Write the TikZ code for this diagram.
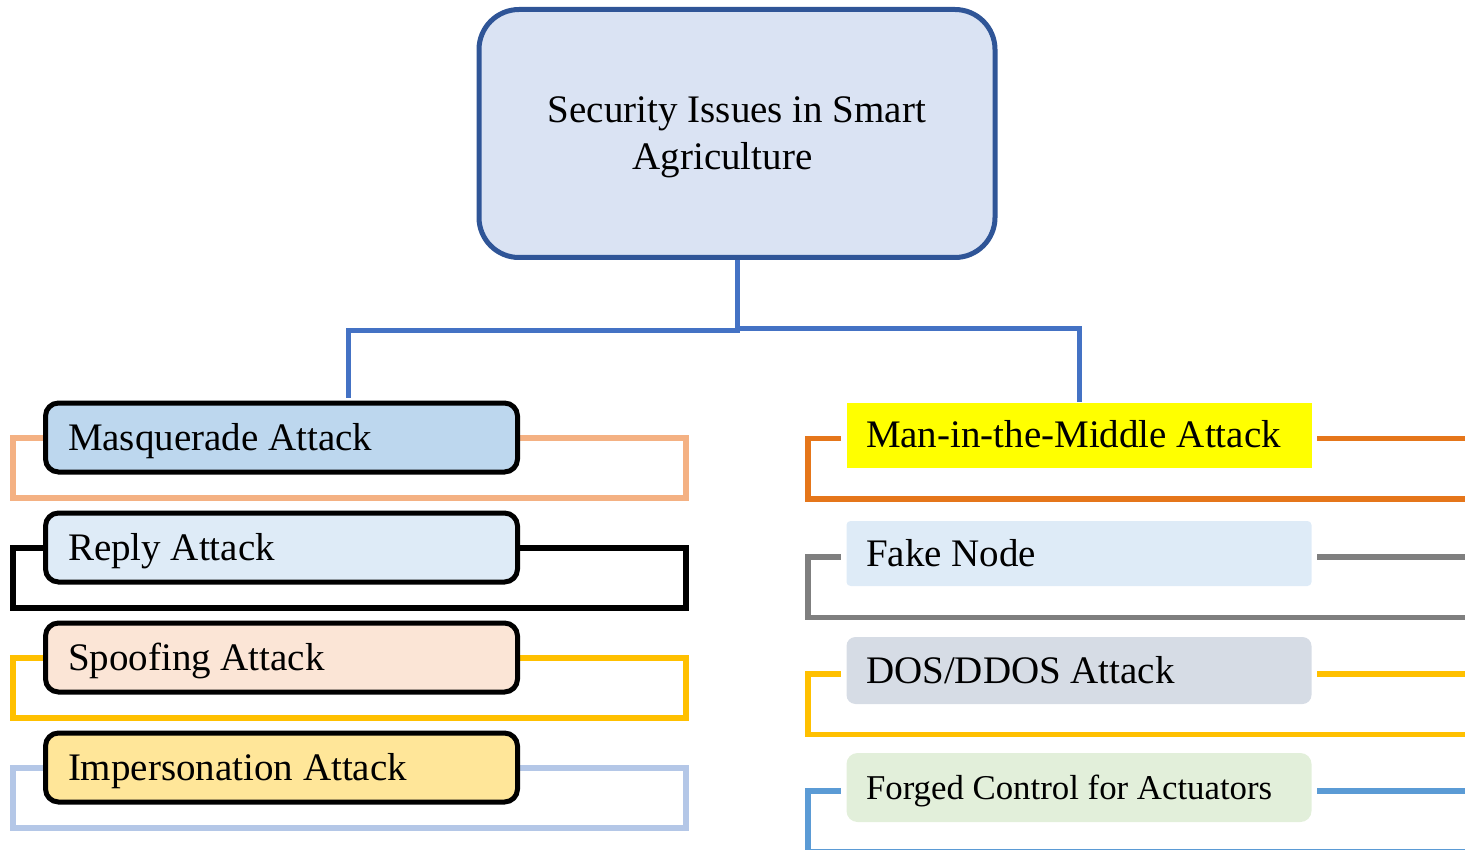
\documentclass[tikz,border=0pt]{standalone}
\usepackage{fontspec}
\setmainfont{Liberation Serif}
\usetikzlibrary{calc,backgrounds}

\definecolor{rootfill}{HTML}{DAE3F3}
\definecolor{rootline}{HTML}{2F5597}
\definecolor{linkblue}{HTML}{4472C4}
\definecolor{masfill}{HTML}{BDD7EE}
\definecolor{repfill}{HTML}{DEEBF7}
\definecolor{spofill}{HTML}{FBE5D6}
\definecolor{impfill}{HTML}{FFE699}
\definecolor{mitmfill}{HTML}{FFFF00}
\definecolor{fakefill}{HTML}{DEEBF7}
\definecolor{dosfill}{HTML}{D6DCE5}
\definecolor{forgfill}{HTML}{E2EFDA}
\definecolor{brpeach}{HTML}{F4B183}
\definecolor{bramber}{HTML}{FFC000}
\definecolor{brsky}{HTML}{B4C7E7}
\definecolor{brorange}{HTML}{E5761A}
\definecolor{brgray}{HTML}{7F7F7F}
\definecolor{brblue}{HTML}{5B9BD5}

\begin{document}
\begin{tikzpicture}[x=1pt,y=-1pt,
  rootbox/.style={draw=rootline, fill=rootfill, line width=5pt, rounded corners=40pt,
    minimum width=516pt, minimum height=248pt, inner sep=0pt, align=center,
    font=\fontsize{39}{47}\selectfont, text height=72.8pt, text depth=0pt},
  leftbox/.style={draw=black, line width=5pt, rounded corners=13pt,
    minimum width=472pt, minimum height=69pt, inner xsep=22.5pt, inner ysep=0pt,
    text width=427pt, align=flush left, font=\fontsize{39}{47}\selectfont,
    text height=25.8pt, text depth=0pt},
  rightbox/.style={draw=none, minimum width=465pt, inner xsep=19.5pt, inner ysep=0pt,
    text width=426pt, align=flush left, font=\fontsize{39}{47}\selectfont,
    text height=25.8pt, text depth=0pt},
  link/.style={draw=linkblue, line width=5pt},
  frame/.style={line width=6pt},
  rframe/.style={line width=5.5pt}
]
\useasboundingbox (0,0) rectangle (1465,850);

% root
\node[rootbox] (root) at (737,133.5) {Security Issues in Smart\\Agriculture\hspace*{29pt}};

% left column
\node[leftbox, fill=masfill] (mas) at (281.5,437.5) {Masquerade Attack};
\node[leftbox, fill=repfill] (rep) at (281.5,547.5) {Reply Attack};
\node[leftbox, fill=spofill] (spo) at (281.5,657.5) {Spoofing Attack};
\node[leftbox, fill=impfill] (imp) at (281.5,767.5) {Impersonation Attack};

% right column
\node[rightbox, fill=mitmfill, minimum height=65pt] (mitm) at (1079,435) {Man-in-the-Middle Attack};
\node[rightbox, fill=fakefill, minimum height=65pt, rounded corners=4pt] (fake) at (1079,553.5) {Fake Node};
\node[rightbox, fill=dosfill, minimum height=67pt, rounded corners=9pt] (dos) at (1079,670.5) {DOS/DDOS Attack};
\node[rightbox, fill=forgfill, minimum height=69pt, rounded corners=11pt,
  font=\fontsize{34.8}{42}\selectfont, text height=23pt] (forg) at (1079,787.5) {Forged Control for Actuators};

% tree links
\coordinate (masjoin) at ($(mas.north)+(66.5,-3)$);
\draw[link] (root.south) -- ++(0,70.5) -| (masjoin);
\draw[link] (root.south) -- ++(0,68.5) -| (mitm.north);

% frames behind the left boxes
\begin{scope}[on background layer]
  \foreach \n/\c in {mas/brpeach, rep/black, spo/bramber, imp/brsky}
    \draw[frame, draw=\c] ($(\n.center)+(-269,0)$) rectangle ($(\n.center)+(404.5,60.5)$);
\end{scope}

% open frames around the right boxes
\foreach \n/\c in {mitm/brorange, fake/brgray, dos/bramber, forg/brblue} {
  \draw[rframe, draw=\c] ($(\n.west)+(-5.5,3.5)$) -- ($(\n.center)+(-271,3.5)$)
    -- ++(0,60.5) -- ++(700,0);
  \draw[rframe, draw=\c] ($(\n.east)+(5.5,3.5)$) -- ++(200,0);
}
\end{tikzpicture}
\end{document}
